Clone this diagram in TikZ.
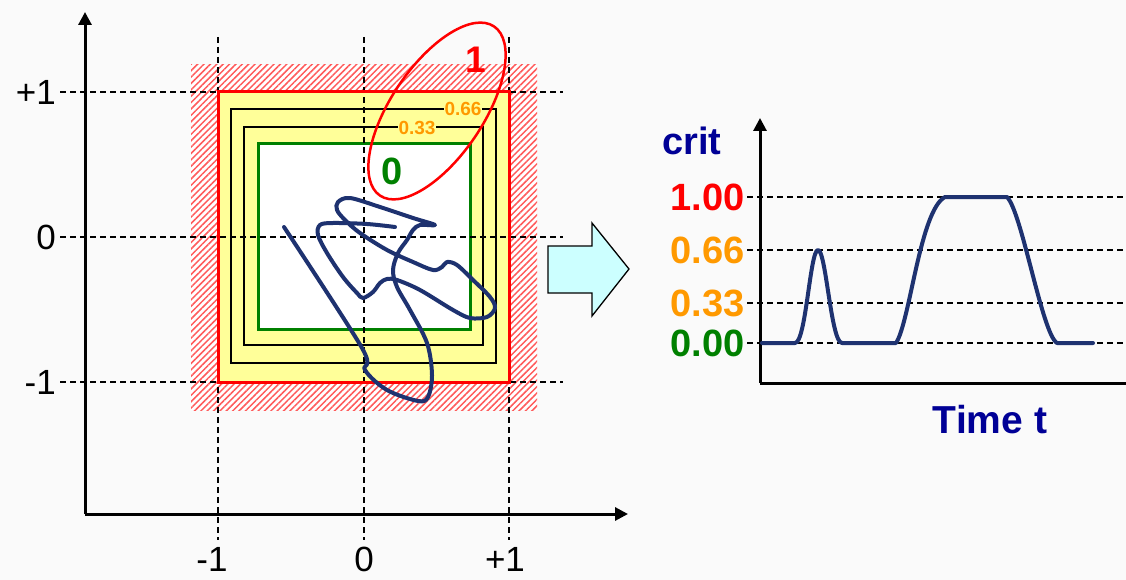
\documentclass[tikz,border=0pt]{standalone}
\usepackage{fontspec}
\setmainfont{Liberation Sans}
\usetikzlibrary{positioning, arrows.meta, patterns.meta}

\definecolor{bgcol}{RGB}{250,250,250}
\definecolor{critred}{RGB}{255,0,0}
\definecolor{critorange}{RGB}{255,153,0}
\definecolor{critgreen}{RGB}{0,128,0}
\definecolor{critnavy}{RGB}{0,0,150}
\definecolor{trajcol}{RGB}{30,50,112}
\definecolor{zoneyellow}{RGB}{255,255,153}
\definecolor{arrowcyan}{RGB}{204,255,255}
\definecolor{hatchred}{RGB}{255,90,90}

\begin{document}
\begin{tikzpicture}[
    x=1pt, y=-1pt,
    >={Triangle[length=13pt, width=13pt]},
    axis/.style={line width=3pt, ->},
    gridline/.style={black, line width=1.5pt, dash pattern=on 6pt off 4pt},
    level/.style={draw, line width=1.2pt},
    ticklbl/.style={font=\fontsize{35}{40}\selectfont, inner sep=0pt},
    critlbl/.style={font=\fontsize{38}{42}\selectfont\bfseries, inner sep=0pt, anchor=east},
    smalllbl/.style={font=\fontsize{19}{21}\selectfont\bfseries, text=critorange, fill=zoneyellow, inner sep=1pt},
    traj/.style={draw=trajcol, line width=4pt, line cap=round, line join=round},
]

% Background and margins
\fill[bgcol] (0,0) rectangle (1126,580);
\useasboundingbox (0,0) rectangle (1126,580);

% Forbidden band (hatched)
\fill[white] (191,65) rectangle (537,410);
\fill[pattern={Lines[angle=45, distance=4.5pt, line width=1.5pt]}, pattern color=hatchred] (191,65) rectangle (537,410);

% Criticality levels
\fill[zoneyellow] (218,92) rectangle (509,382);
\draw[level] (231,109) rectangle (496,363);
\draw[level] (244,127) rectangle (483,345);
\draw[critgreen, fill=white, line width=3pt] (258,144) rectangle (470,329);

% Grid of the state plane
\foreach \gx in {218,364,509}
    \draw[gridline] (\gx,37) -- (\gx,540);
\foreach \gy in {92,237,382}
    \draw[gridline] (60,\gy) -- (563,\gy);

% Limit square
\draw[critred, line width=3pt] (218,92) rectangle (509,382);

\node[smalllbl] (l66) at (463,109) {0.66};
\node[smalllbl] (l33) at (417,128) {0.33};

% Trajectory
\draw[traj] plot[smooth, tension=0.55] coordinates {
    (284,227) (362,348) (365,370) (387,390) (418,401) (428,397) (432,375)
    (427,343) (410,310) (397,287) (393,270) (398,253) (407,240) (413,230)
    (420,225) (435,225) (413,218) (380,207) (350,198) (338,202) (337,210)
    (345,220) (360,233) (387,250) (413,262) (433,270) (442,267) (447,262)
    (457,265) (473,280) (490,297) (495,308) (487,317) (470,318) (453,310)
    (420,290) (397,280) (387,279) (380,283) (373,292) (363,298) (357,293)
    (343,277) (327,253) (318,235) (320,225) (333,223) (367,224) (395,227)};

% Critical region
\draw[critred, line width=2.5pt, rotate around={56:(437,111)}] (437,111) ellipse [x radius=102, y radius=46];
\node[font=\fontsize{38}{42}\selectfont\bfseries, text=critgreen, inner sep=0pt] (zero) at (392,171) {0};
\node[font=\fontsize{37}{42}\selectfont\bfseries, text=critred, inner sep=0pt] (one) at (476,60) {1};

% Axes of the state plane
\coordinate (o1) at (85,514);
\coordinate (ytop) at (85,12);
\coordinate (xend) at (628,514);
\draw[axis] (o1) -- (ytop);
\draw[axis] (o1) -- (xend);

\node[ticklbl, anchor=east] (yp) at (56,92) {+1};
\node[ticklbl, anchor=east] (y0) at (56,237) {0};
\node[ticklbl, anchor=east] (ym) at (56,382) {-1};
\node[ticklbl, anchor=base] (xm) at (212,571) {-1};
\node[ticklbl, anchor=base] (x0) at (364,571) {0};
\node[ticklbl, anchor=base] (xp) at (505,571) {+1};

% Block arrow
\draw[fill=arrowcyan, line width=1.3pt, line join=miter]
    (548,246) -- (592,246) -- (592,223) -- (629,269) -- (592,316) -- (592,293) -- (548,293) -- cycle;

% Criticality over time
\coordinate (o2) at (760,383);
\coordinate (ctop) at (760,118);
\coordinate (tend) at (1126,383);
\foreach \cy in {197,250,303,343}
    \draw[gridline] (747,\cy) -- (1126,\cy);
\draw[axis] (o2) -- (ctop);
\draw[line width=3pt] (o2) -- (tend);

\node[font=\fontsize{38}{42}\selectfont\bfseries, text=critnavy, anchor=base] (crit) at (692,155) {crit};
\node[critlbl, text=critred] (c100) at (745,197) {1.00};
\node[critlbl, text=critorange] (c066) at (745,250) {0.66};
\node[critlbl, text=critorange] (c033) at (745,303) {0.33};
\node[critlbl, text=critgreen] (c000) at (745,343) {0.00};
\node[font=\fontsize{39}{42}\selectfont\bfseries, text=critnavy, anchor=base] (time) at (990,433) {Time t};

\draw[traj] (762,343) -- (795,343)
    .. controls (806,343) and (810,250) .. (818,250)
    .. controls (826,250) and (831,343) .. (842,343) -- (896,343)
    .. controls (910,322) and (920,210) .. (945,197) -- (1007,197)
    .. controls (1022,212) and (1042,334) .. (1057,343) -- (1093,343);

\end{tikzpicture}
\end{document}
